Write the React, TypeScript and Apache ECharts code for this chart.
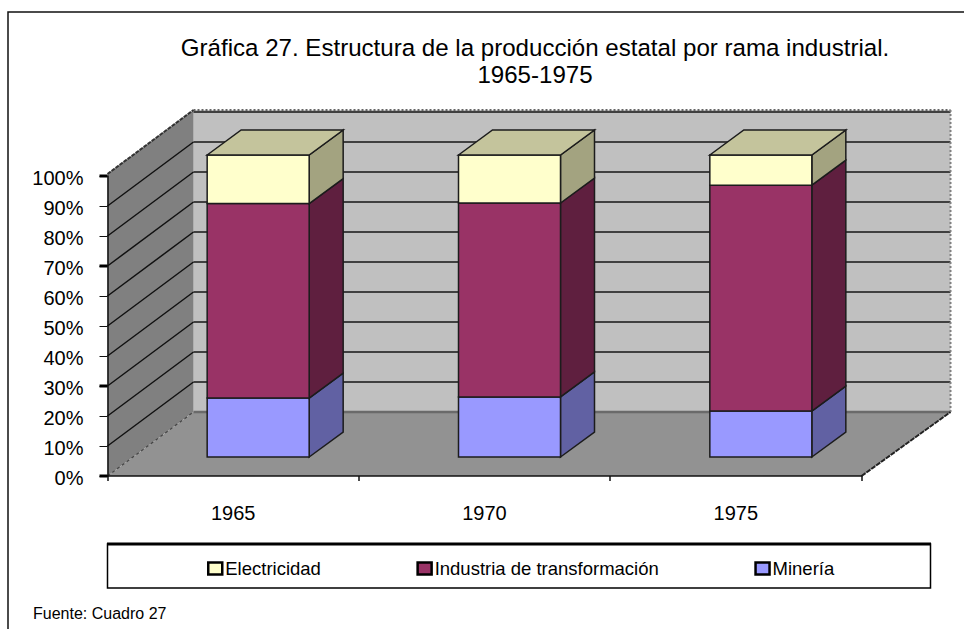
import React, { useEffect, useRef } from "react";
import * as echarts from "echarts";

const categories = ["1965", "1970", "1975"];
const mineria = [19.5, 19.9, 15.2];
const industria = [64.4, 64.2, 74.8];
const electricidad = [16.1, 15.9, 10.0];
const boldTicks = [0, 30, 70, 100];
const title = "Gráfica 27. Estructura de la producción estatal por rama industrial.\n1965-1975";
const source = "Fuente: Cuadro 27";

const FONT = "'Liberation Sans', Arial, sans-serif";
const DEPTH_X = 86;
const DEPTH_Y = 64;
const BAR_DX = 25;
const BAR_DY = 19;
const SIDE_DX = 34;
const SIDE_DY = 25;
const BAR_W = 102;
const STRETCH = 1.0067;
const LINE = "#1c1c1c";

type Pt = number[];
const poly = (points: Pt[], fill: string, stroke = LINE, lineWidth = 1.5): any => ({
  type: "polygon",
  shape: { points },
  style: { fill, stroke, lineWidth },
});
const seg = (a: Pt, b: Pt, stroke: string, lineWidth: number, lineDash?: number[]): any => ({
  type: "line",
  shape: { x1: a[0], y1: a[1], x2: b[0], y2: b[1] },
  style: { stroke, lineWidth, lineDash },
});

function renderWalls(_: any, api: any) {
  const ox = api.coord(["1965", 0])[0] - (api.size([1, 0])[0] as number) / 2;
  const ex = ox + (api.size([1, 0])[0] as number) * 3;
  const y0 = api.coord(["1965", 0])[1];
  const y100 = api.coord(["1965", 100])[1];
  const children: any[] = [];
  const wallRight = ex + DEPTH_X + 3;
  const bx = ox + DEPTH_X;
  const by = y0 - DEPTH_Y;
  const ty = y100 - DEPTH_Y - 2;
  children.push({ type: "rect", shape: { x: bx, y: ty, width: wallRight - bx, height: by - ty }, style: { fill: "#c0c0c0" } });
  children.push(poly([[ox, y0], [ox, y100 - 2], [bx, ty], [bx, by]], "#808080", "none", 0));
  children.push(poly([[ox, y0], [ex, y0], [wallRight, by], [bx, by]], "#929292", "none", 0));
  for (let v = 10; v <= 100; v += 10) {
    const y = api.coord(["1965", v])[1];
    children.push(seg([bx, y - DEPTH_Y], [wallRight, y - DEPTH_Y], "#404040", 2.2));
    if (v < 100) children.push(seg([ox, y], [bx, y - DEPTH_Y], "#111", 1.5));
  }
  children.push(seg([bx, by], [wallRight, by], "#6a6a6a", 2.5));
  children.push(seg([bx, ty], [wallRight, ty], "#666", 2, [2, 2]));
  children.push(seg([wallRight, ty], [wallRight, by], "#808080", 2, [2, 2]));
  children.push(seg([ox, y100 - 2], [bx, ty], "#333", 2, [4, 1]));
  children.push(seg([ox, y0], [bx, by], "#444", 1.2, [3, 3]));
  children.push(seg([ex, y0], [wallRight, by], "#222", 2, [5, 1]));
  return { type: "group", children };
}

function renderBoldTick(_: any, api: any) {
  const p = api.coord(["1965", api.value(1)]);
  const ox = p[0] - (api.size([1, 0])[0] as number) / 2;
  return seg([ox - 8, p[1]], [ox, p[1]], "#000", 3);
}

function barRenderer(front: string, side: string, top: string | null) {
  return (_: any, api: any) => {
    const c = api.coord([api.value(0), 0]);
    const base = c[1];
    const cy = (v: number) => base - BAR_DY + (api.coord([api.value(0), v])[1] - base) * STRETCH;
    const x0 = c[0] + BAR_DX - BAR_W / 2;
    const x1 = x0 + BAR_W;
    const yB = cy(api.value(1));
    const yT = cy(api.value(2));
    const kids: any[] = [];
    kids.push(poly([[x1, yB], [x1 + SIDE_DX, yB - SIDE_DY], [x1 + SIDE_DX, yT - SIDE_DY], [x1, yT]], side));
    kids.push({ type: "rect", shape: { x: x0, y: yT, width: BAR_W, height: yB - yT }, style: { fill: front, stroke: LINE, lineWidth: 1.5 } });
    if (top) {
      kids.push(poly([[x0, yT], [x0 + SIDE_DX, yT - SIDE_DY], [x1 + SIDE_DX, yT - SIDE_DY], [x1, yT]], top));
    }
    return { type: "group", children: kids };
  };
}

function stacked(base: number[], vals: number[]) {
  return categories.map((c, i) => [c, base[i], base[i] + vals[i]]);
}

export default function App() {
  const ref = useRef<HTMLDivElement>(null);
  useEffect(() => {
    document.body.style.margin = "0";
    document.body.style.background = "#fff";
    const chart = echarts.init(ref.current!, undefined, { renderer: "svg" });
    const zero = categories.map(() => 0);
    const b2 = mineria;
    const b3 = mineria.map((v, i) => v + industria[i]);
    chart.setOption({
      animation: false,
      backgroundColor: "#fff",
      title: {
        text: title,
        left: 530,
        top: 29,
        textAlign: "center",
        textStyle: { fontFamily: FONT, fontSize: 24.1, fontWeight: "normal", color: "#000", lineHeight: 27 },
      },
      grid: { left: 107.5, top: 176, width: 754, height: 300, containLabel: false },
      xAxis: {
        type: "category",
        data: categories,
        axisLine: { show: true, lineStyle: { color: "#111", width: 1.5 } },
        axisTick: { show: true, length: 5, alignWithLabel: false, lineStyle: { color: "#111", width: 1.5 } },
        axisLabel: { color: "#000", fontFamily: FONT, fontSize: 20, margin: 27 },
        z: 10,
      },
      yAxis: {
        type: "value",
        min: 0,
        max: 100,
        interval: 10,
        splitLine: { show: false },
        axisLine: { show: true, lineStyle: { color: "#111", width: 1.5 } },
        axisTick: { show: true, length: 8, lineStyle: { color: "#111", width: 1 } },
        axisLabel: {
          color: "#000",
          fontFamily: FONT,
          fontSize: 20,
          margin: 24,
          formatter: "{a|{value}%}",
          rich: { a: { color: "#000", fontFamily: FONT, fontSize: 20, padding: [4, 0, 0, 0] } },
        },
        z: 10,
      },
      legend: {
        left: 207,
        top: 559,
        padding: 0,
        itemGap: 95.5,
        itemWidth: 14,
        itemHeight: 12,
        icon: "rect",
        itemStyle: { borderColor: "#000", borderWidth: 2.5 },
        textStyle: { fontFamily: FONT, fontSize: 18.5, color: "#000", padding: [0, 0, 0, -2] },
        data: ["Electricidad", "Industria de transformación", "Minería"],
      },
      series: [
        { type: "custom", name: "walls", silent: true, z: 1, data: [["1965", 0]], renderItem: renderWalls, encode: { x: 0, y: 1 }, clip: false },
        { type: "custom", name: "ticks", silent: true, z: 11, data: boldTicks.map((t) => ["1965", t]), renderItem: renderBoldTick, encode: { x: 0, y: 1 }, clip: false },
        { type: "custom", name: "Minería", z: 3, itemStyle: { color: "#9999ff" }, data: stacked(zero, mineria), renderItem: barRenderer("#9999ff", "#6161a3", null), encode: { x: 0, y: 2 }, clip: false },
        { type: "custom", name: "Industria de transformación", z: 4, itemStyle: { color: "#993366" }, data: stacked(b2, industria), renderItem: barRenderer("#993366", "#5f1f3f", null), encode: { x: 0, y: 2 }, clip: false },
        { type: "custom", name: "Electricidad", z: 5, itemStyle: { color: "#ffffcc" }, data: stacked(b3, electricidad), renderItem: barRenderer("#ffffcc", "#a3a380", "#c4c49c"), encode: { x: 0, y: 2 }, clip: false },
      ],
      graphic: [
        { type: "polyline", silent: true, shape: { points: [[8, 629], [8, 12], [964, 12]] }, style: { stroke: "#111", lineWidth: 1.5, fill: "none" } },
        { type: "rect", silent: true, z: -1, shape: { x: 107.5, y: 544, width: 823, height: 44 }, style: { fill: "#fff", stroke: "#000", lineWidth: 1.5 } },
        { type: "line", silent: true, shape: { x1: 107, y1: 544, x2: 931, y2: 544 }, style: { stroke: "#000", lineWidth: 3 } },
        { type: "text", silent: true, x: 33, y: 605, style: { text: source, fontFamily: FONT, fontSize: 16, fill: "#000" } },
      ],
    });
    return () => chart.dispose();
  }, []);
  return <div ref={ref} style={{ position: "absolute", left: 0, top: 0, width: 964, height: 629 }} />;
}
